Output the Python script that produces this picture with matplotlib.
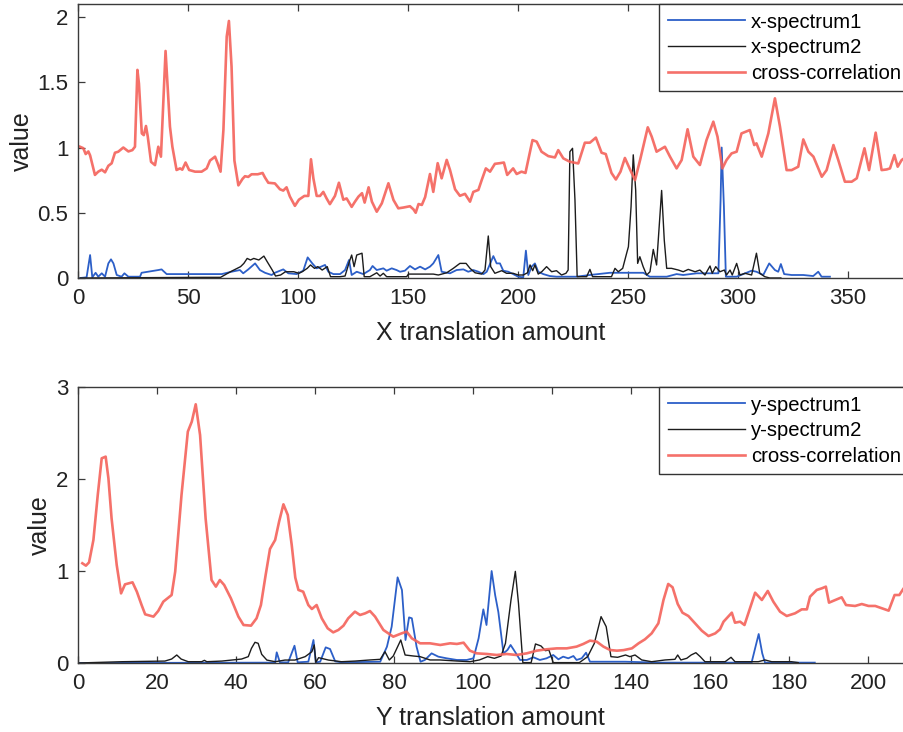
import matplotlib
matplotlib.use('Agg')
import matplotlib.pyplot as plt
from matplotlib.ticker import FormatStrFormatter

# ---- X translation (top panel) ----
x_cc_x = [0.9, 2.4, 3.5, 4.7, 5.5, 7.7, 9.2, 10.8, 12.3, 13.8, 15.3, 16.8, 18.3, 20.6, 22.9, 24.7, 25.9, 27.0, 27.7,
          29.0, 29.9, 30.9, 31.7, 33.2, 35.0, 36.5, 37.7, 39.8, 41.8, 42.9, 44.8, 46.4, 47.4, 48.9, 50.5, 53.2, 56.2,
          58.5, 60.0, 62.3, 63.5, 64.8, 66.1, 67.6, 68.6, 69.8, 71.1, 72.9, 74.8, 75.9, 77.4, 78.9, 81.7, 83.9, 85.0,
          86.5, 89.5, 91.8, 93.3, 94.8, 96.3, 98.6, 100.4, 102.9, 104.7, 105.9, 107.0, 108.5, 110.0, 111.5, 113.0,
          114.5, 116.8, 118.6, 120.6, 122.1, 124.4, 125.9, 127.5, 129.1, 130.3, 132.1, 133.6, 135.8, 138.1, 141.1,
          143.4, 145.6, 147.9, 150.9, 152.5, 153.5, 154.8, 156.3, 157.8, 160.0, 161.5, 163.5, 165.3, 167.6, 169.1,
          171.4, 173.6, 175.9, 178.2, 179.7, 182.0, 183.5, 185.4, 187.3, 189.5, 191.8, 193.6, 195.1, 197.8, 199.4,
          201.6, 203.4, 206.6, 208.5, 210.7, 213.8, 216.8, 218.3, 220.6, 223.6, 227.4, 230.4, 232.7, 235.4, 238.0,
          239.9, 242.5, 244.5, 246.6, 248.6, 251.0, 253.2, 255.5, 259.0, 260.8, 263.0, 266.8, 269.1, 272.1, 274.4,
          277.1, 279.7, 282.7, 285.7, 288.8, 290.7, 292.9, 294.8, 297.1, 299.4, 301.6, 305.4, 307.4, 308.4, 310.8,
          313.8, 316.8, 319.1, 322.1, 324.4, 327.4, 329.7, 332.0, 334.3, 338.1, 340.3, 343.4, 345.6, 348.6, 351.7,
          354.0, 357.5, 359.6, 362.6, 365.3, 367.6, 369.1, 371.1, 372.6, 374.4, 375.5, 378.0]
cc_x = [1.006, 0.995, 0.95, 0.97, 0.94, 0.79, 0.815, 0.83, 0.81, 0.86, 0.879, 0.96, 0.968, 1.0, 0.97, 0.98, 1.006,
        1.595, 1.49, 1.108, 1.095, 1.165, 1.085, 0.89, 0.865, 1.006, 0.93, 1.74, 1.16, 1.006, 0.828, 0.84, 0.83,
        0.885, 0.828, 0.815, 0.815, 0.84, 0.9, 0.93, 0.878, 0.815, 1.135, 1.85, 1.97, 1.62, 0.90, 0.71, 0.76, 0.78,
        0.775, 0.795, 0.795, 0.805, 0.77, 0.73, 0.725, 0.68, 0.67, 0.695, 0.625, 0.553, 0.6, 0.629, 0.629, 0.91,
        0.763, 0.629, 0.629, 0.66, 0.61, 0.566, 0.629, 0.73, 0.6, 0.61, 0.545, 0.585, 0.624, 0.65, 0.578, 0.695,
        0.585, 0.508, 0.572, 0.726, 0.598, 0.534, 0.54, 0.55, 0.526, 0.5, 0.567, 0.56, 0.62, 0.797, 0.66, 0.88,
        0.764, 0.905, 0.828, 0.68, 0.63, 0.645, 0.585, 0.66, 0.675, 0.75, 0.84, 0.815, 0.875, 0.88, 0.885, 0.79,
        0.84, 0.797, 0.815, 0.805, 1.057, 1.045, 0.968, 0.934, 0.924, 0.98, 0.917, 0.891, 0.878, 1.037, 1.037,
        1.076, 0.96, 0.95, 0.805, 0.755, 0.815, 0.92, 0.83, 0.75, 0.904, 1.155, 1.083, 0.968, 1.006, 0.93, 0.84,
        0.904, 1.14, 0.93, 0.866, 1.057, 1.198, 1.083, 0.84, 0.904, 0.955, 0.968, 1.108, 1.134, 1.019, 1.032, 0.93,
        1.108, 1.377, 1.16, 0.827, 0.827, 0.853, 1.062, 0.968, 0.93, 0.776, 0.827, 1.019, 0.904, 0.738, 0.738,
        0.764, 0.994, 0.827, 1.114, 0.827, 0.832, 0.84, 0.942, 0.853, 0.904, 0.917, 0.9]

x_sp1_x = [1, 3.9, 5.5, 6.5, 8.0, 9.2, 10.8, 12.3, 13.8, 15.0, 16.1, 17.6, 19.8, 21.1, 22.9, 28.2, 28.9, 36.5, 38.0,
           40.3, 48.6, 65.3, 69.8, 73.6, 75.1, 77.4, 80.5, 82.7, 85.0, 88.0, 89.5, 93.3, 95.6, 99.4, 102.4, 104.4,
           106.5, 108.5, 110.5, 112.3, 113.8, 116.1, 119.1, 121.4, 123.2, 124.4, 126.7, 129.7, 132.7, 133.9, 135.8,
           138.8, 140.3, 142.6, 144.8, 146.4, 148.6, 150.9, 153.2, 155.5, 157.8, 160.0, 161.5, 163.8, 165.3, 169.1,
           172.1, 175.2, 177.4, 179.7, 182.0, 184.3, 185.8, 188.8, 190.3, 191.8, 193.3, 195.6, 197.8, 200.1, 202.4,
           203.6, 204.7, 206.2, 207.7, 209.2, 211.5, 214.5, 217.5, 226.4, 232.7, 241.8, 257.0, 259.9, 267.6, 272.1,
           275.1, 281.2, 291.1, 292.1, 292.6, 293.6, 294.5, 299.4, 302.4, 306.2, 308.4, 311.5, 314.2, 316.8, 318.3,
           319.5, 321.0, 324.4, 329.7, 334.2, 336.5, 338.0, 341.8]
sp1_x = [0.0, 0.005, 0.176, 0.005, 0.04, 0.01, 0.036, 0.01, 0.112, 0.143, 0.112, 0.023, 0.01, 0.036, 0.01, 0.01, 0.04,
         0.061, 0.066, 0.03, 0.03, 0.03, 0.048, 0.061, 0.036, 0.066, 0.112, 0.061, 0.04, 0.023, 0.04, 0.066, 0.036,
         0.03, 0.056, 0.158, 0.112, 0.074, 0.087, 0.1, 0.048, 0.03, 0.03, 0.061, 0.138, 0.023, 0.048, 0.03, 0.061,
         0.092, 0.061, 0.074, 0.056, 0.074, 0.061, 0.048, 0.056, 0.092, 0.066, 0.087, 0.066, 0.087, 0.112, 0.176,
         0.048, 0.036, 0.061, 0.066, 0.048, 0.061, 0.048, 0.03, 0.048, 0.168, 0.112, 0.112, 0.056, 0.048, 0.03, 0.01,
         0.005, 0.21, 0.023, 0.087, 0.112, 0.048, 0.03, 0.015, 0.01, 0.01, 0.023, 0.04, 0.04, 0.01, 0.01, 0.03,
         0.023, 0.036, 0.036, 0.6, 1.0, 0.55, 0.01, 0.01, 0.03, 0.056, 0.048, 0.023, 0.112, 0.061, 0.048, 0.107,
         0.03, 0.023, 0.023, 0.015, 0.048, 0.01, 0.01]

x_sp2_x = [1, 57.1, 64.8, 69.3, 73.9, 75.4, 76.9, 78.4, 79.9, 82.2, 84.5, 86.0, 88.3, 89.8, 92.1, 94.3, 98.1, 100.4,
           101.9, 104.2, 105.7, 107.5, 109.0, 111.0, 113.3, 114.8, 119.1, 121.4, 123.6, 124.4, 125.5, 126.7, 129.1,
           130.1, 132.7, 135.8, 137.3, 138.8, 140.3, 149.4, 150.2, 161.5, 163.8, 167.6, 170.6, 173.6, 176.4, 178.2,
           180.5, 183.5, 185.0, 186.5, 187.6, 189.5, 192.6, 194.8, 197.8, 200.1, 202.4, 204.3, 205.5, 206.7, 207.7,
           209.2, 210.8, 213.0, 215.3, 217.5, 219.8, 221.8, 222.8, 223.6, 224.8, 225.9, 226.9, 231.2, 232.7, 233.9,
           242.5, 244.1, 245.6, 247.6, 249.4, 250.2, 251.4, 252.4, 253.5, 254.4, 255.4, 256.9, 258.5, 260.0, 261.5,
           263.0, 265.3, 266.5, 267.6, 269.8, 272.9, 275.1, 277.4, 280.5, 282.7, 285.0, 287.3, 288.3, 289.9, 291.8,
           293.8, 294.8, 296.4, 297.4, 299.4, 300.9, 303.2, 306.2, 308.4, 309.9, 312.2, 314.5, 319.5]
sp2_x = [0.0, 0.005, 0.005, 0.048, 0.087, 0.112, 0.15, 0.138, 0.15, 0.138, 0.168, 0.125, 0.061, 0.015, 0.023, 0.048,
         0.048, 0.036, 0.048, 0.074, 0.1, 0.074, 0.087, 0.061, 0.087, 0.01, 0.01, 0.015, 0.138, 0.176, 0.087, 0.176,
         0.19, 0.01, 0.01, 0.04, 0.015, 0.036, 0.01, 0.01, 0.03, 0.03, 0.023, 0.04, 0.074, 0.112, 0.112, 0.074, 0.04,
         0.03, 0.061, 0.322, 0.087, 0.036, 0.056, 0.036, 0.036, 0.023, 0.023, 0.04, 0.1, 0.056, 0.1, 0.03, 0.048,
         0.087, 0.048, 0.056, 0.023, 0.036, 0.061, 0.968, 0.994, 0.6, 0.01, 0.01, 0.066, 0.01, 0.01, 0.074, 0.048,
         0.074, 0.19, 0.24, 0.546, 0.944, 0.674, 0.112, 0.163, 0.087, 0.023, 0.048, 0.219, 0.1, 0.671, 0.29, 0.074,
         0.074, 0.061, 0.048, 0.066, 0.048, 0.061, 0.023, 0.092, 0.036, 0.087, 0.048, 0.061, 0.023, 0.061, 0.023,
         0.112, 0.023, 0.036, 0.023, 0.19, 0.036, 0.01, 0.0, 0.0]

# ---- Y translation (bottom panel) ----
y_cc_x = [1.1, 2.0, 2.8, 3.9, 5.0, 6.0, 7.0, 7.7, 8.5, 9.8, 10.9, 11.9, 13.8, 14.9, 16.1, 17.0, 19.1, 20.3, 21.6,
          23.7, 24.6, 26.2, 27.8, 28.8, 29.8, 30.9, 32.3, 33.8, 34.9, 35.9, 37.0, 38.7, 40.6, 41.9, 43.8, 45.2, 46.3,
          47.5, 48.6, 49.9, 50.9, 52.0, 53.1, 54.1, 55.0, 55.8, 57.0, 58.3, 59.2, 60.4, 61.7, 63.2, 64.6, 65.9, 67.2,
          68.4, 70.1, 71.4, 72.7, 73.9, 75.2, 77.3, 79.8, 81.9, 83.2, 84.5, 86.6, 89.1, 91.7, 94.2, 95.9, 97.6, 99.2,
          100.9, 103.5, 106.0, 108.5, 111.0, 113.6, 116.1, 118.6, 121.2, 123.7, 126.2, 127.9, 129.6, 131.3, 133.0,
          134.7, 136.4, 138.1, 140.2, 141.9, 143.5, 145.2, 146.9, 148.2, 149.4, 150.5, 151.8, 153.0, 154.5, 156.2,
          157.9, 159.6, 161.3, 162.5, 163.4, 165.5, 166.3, 167.6, 168.7, 170.1, 171.4, 173.1, 174.6, 176.0, 177.7,
          179.4, 181.5, 183.2, 184.5, 185.3, 187.0, 188.3, 189.3, 190.1, 191.7, 193.3, 194.4, 196.7, 198.4, 200.1,
          201.8, 203.5, 205.2, 206.7, 207.9, 209.0, 211.0]
cc_y = [1.084, 1.058, 1.094, 1.337, 1.826, 2.225, 2.243, 2.007, 1.572, 1.065, 0.757, 0.855, 0.877, 0.775, 0.63,
        0.529, 0.504, 0.565, 0.667, 0.739, 0.993, 1.826, 2.515, 2.623, 2.812, 2.478, 1.572, 0.902, 0.83, 0.902,
        0.848, 0.703, 0.504, 0.413, 0.406, 0.486, 0.63, 0.957, 1.24, 1.337, 1.536, 1.725, 1.609, 1.282, 0.928,
        0.794, 0.775, 0.63, 0.587, 0.63, 0.486, 0.377, 0.333, 0.359, 0.406, 0.486, 0.558, 0.522, 0.54, 0.565,
        0.504, 0.359, 0.286, 0.322, 0.341, 0.268, 0.214, 0.214, 0.196, 0.214, 0.207, 0.221, 0.134, 0.105, 0.098,
        0.087, 0.098, 0.087, 0.105, 0.134, 0.149, 0.159, 0.159, 0.178, 0.207, 0.243, 0.232, 0.178, 0.141, 0.134,
        0.14, 0.159, 0.214, 0.257, 0.322, 0.431, 0.685, 0.859, 0.823, 0.642, 0.547, 0.511, 0.431, 0.351, 0.293,
        0.322, 0.366, 0.449, 0.547, 0.438, 0.449, 0.413, 0.594, 0.764, 0.685, 0.783, 0.667, 0.558, 0.511, 0.54,
        0.583, 0.583, 0.721, 0.794, 0.812, 0.83, 0.656, 0.685, 0.714, 0.63, 0.62, 0.641, 0.62, 0.62, 0.594, 0.569,
        0.739, 0.739, 0.812, 0.8]

y_sp1_x = [0, 49.9, 50.3, 51.1, 53.2, 54.8, 55.6, 58.3, 59.6, 60.2, 61.3, 62.7, 63.8, 65.1, 66.7, 76.5, 78.2, 79.4,
           80.9, 82.0, 82.9, 83.8, 84.5, 85.7, 86.7, 87.8, 89.5, 91.2, 93.3, 95.9, 98.4, 100.1, 101.4, 102.6, 103.4,
           104.7, 105.6, 106.4, 107.7, 108.7, 109.5, 110.6, 111.9, 113.6, 115.3, 116.9, 118.6, 120.3, 121.6, 122.8,
           124.1, 125.4, 126.2, 127.5, 128.6, 129.6, 131.3, 138.5, 146.9, 170.5, 171.5, 172.3, 173.2, 173.9, 186.5]
sp1_y = [0.0, 0.004, 0.116, 0.007, 0.007, 0.188, 0.007, 0.014, 0.25, 0.007, 0.014, 0.17, 0.152, 0.018, 0.007, 0.014,
         0.177, 0.395, 0.931, 0.793, 0.25, 0.496, 0.486, 0.177, 0.014, 0.033, 0.105, 0.069, 0.051, 0.033, 0.033,
         0.051, 0.268, 0.583, 0.413, 1.0, 0.736, 0.554, 0.105, 0.141, 0.196, 0.123, 0.033, 0.033, 0.062, 0.033,
         0.051, 0.087, 0.04, 0.069, 0.051, 0.076, 0.033, 0.051, 0.112, 0.014, 0.014, 0.014, 0.004, 0.004, 0.178,
         0.315, 0.105, 0.004, 0.004]

y_sp2_x = [0, 11.1, 22.0, 23.7, 25.0, 26.1, 27.9, 31.3, 32.0, 32.6, 36.4, 38.9, 41.4, 43.1, 43.9, 44.8, 45.6, 46.5,
           47.8, 49.9, 52.4, 54.9, 57.5, 59.2, 59.8, 60.2, 60.9, 63.4, 66.7, 70.1, 73.9, 76.5, 77.7, 78.8, 79.8, 81.7,
           82.8, 84.9, 86.6, 89.1, 91.6, 95.7, 99.2, 101.6, 103.7, 105.4, 107.1, 108.2, 109.6, 110.7, 111.5, 112.6,
           114.7, 115.8, 117.2, 118.3, 119.2, 120.3, 126.9, 129.0, 130.7, 132.4, 133.7, 134.9, 136.6, 138.6, 139.7,
           141.0, 142.7, 145.2, 148.6, 151.1, 151.8, 152.6, 154.1, 155.2, 156.4, 157.5, 158.7, 163.8, 165.3, 166.3,
           172.2, 173.9, 175.6, 180.6, 182.3]
sp2_y = [0.0, 0.014, 0.021, 0.043, 0.087, 0.043, 0.014, 0.014, 0.029, 0.014, 0.021, 0.032, 0.043, 0.069, 0.159,
         0.225, 0.214, 0.094, 0.032, 0.014, 0.032, 0.032, 0.069, 0.123, 0.196, 0.007, 0.058, 0.032, 0.014, 0.021,
         0.033, 0.04, 0.123, 0.033, 0.076, 0.25, 0.087, 0.076, 0.069, 0.033, 0.033, 0.022, 0.014, 0.033, 0.069,
         0.051, 0.076, 0.214, 0.685, 0.996, 0.649, 0.004, 0.004, 0.207, 0.185, 0.134, 0.141, 0.004, 0.004, 0.069,
         0.214, 0.504, 0.395, 0.069, 0.062, 0.087, 0.069, 0.087, 0.033, 0.014, 0.033, 0.04, 0.087, 0.033, 0.051,
         0.087, 0.112, 0.069, 0.014, 0.014, 0.062, 0.014, 0.014, 0.033, 0.014, 0.014, 0.004]

plt.rcParams['font.family'] = ['Liberation Sans', 'DejaVu Sans']

blue = '#2c5fc8'
black = '#1c1c1c'
red = '#f4625a'
axcol = '#3a3a3a'

W, H = 904, 732
fig = plt.figure(figsize=(W / 100, H / 100), dpi=100)
ax1 = fig.add_axes([78 / W, (H - 278) / H, 832 / W, 274 / H])
ax2 = fig.add_axes([78 / W, (H - 663) / H, 832 / W, 276 / H])


def style(ax, xmax, ymax, xticks, yticks, xlabel, names, ylab_x):
    ax.set_xlim(0, xmax)
    ax.set_ylim(0, ymax)
    ax.set_xticks(xticks)
    ax.set_yticks(yticks)
    ax.yaxis.set_major_formatter(FormatStrFormatter('%g'))
    ax.tick_params(direction='in', length=5, width=0.9, color=axcol, labelsize=16,
                   labelcolor='#222222', top=True, right=True, pad=7)
    for s in ax.spines.values():
        s.set_color(axcol)
        s.set_linewidth(1.0)
    ax.set_xlabel(xlabel, fontsize=18, color='#222222', va='center')
    ax.xaxis.set_label_coords(0.496, -0.2)
    ax.set_ylabel('value', fontsize=18, color='#222222', va='center')
    ax.yaxis.set_label_coords(ylab_x, 0.5)
    # legend box starts at x=659 px and runs off the right edge, as in the source figure
    leg = ax.legend(names, loc='upper left', bbox_to_anchor=((659 - 78) / 832, 1.0),
                    fontsize=14.6, frameon=True, fancybox=False,
                    handlelength=3.8, handletextpad=0.3, labelspacing=0.33,
                    borderpad=0.42, borderaxespad=0.0, framealpha=1)
    leg.get_frame().set_edgecolor('#333333')
    leg.get_frame().set_linewidth(1.0)


ax1.plot(x_sp1_x, sp1_x, color=blue, lw=1.3)
ax1.plot(x_sp2_x, sp2_x, color=black, lw=1.0)
ax1.plot(x_cc_x, cc_x, color=red, lw=1.9, alpha=0.9)
style(ax1, 378.2, 2.1, range(0, 351, 50), [0, 0.5, 1, 1.5, 2], 'X translation amount',
      ['x-spectrum1', 'x-spectrum2', 'cross-correlation'], -0.068)

ax2.plot(y_sp1_x, sp1_y, color=blue, lw=1.3)
ax2.plot(y_sp2_x, sp2_y, color=black, lw=1.0)
ax2.plot(y_cc_x, cc_y, color=red, lw=1.9, alpha=0.9)
style(ax2, 210.6, 3, range(0, 201, 20), [0, 1, 2, 3], 'Y translation amount',
      ['y-spectrum1', 'y-spectrum2', 'cross-correlation'], -0.046)

fig.savefig('out.png', dpi=100)
